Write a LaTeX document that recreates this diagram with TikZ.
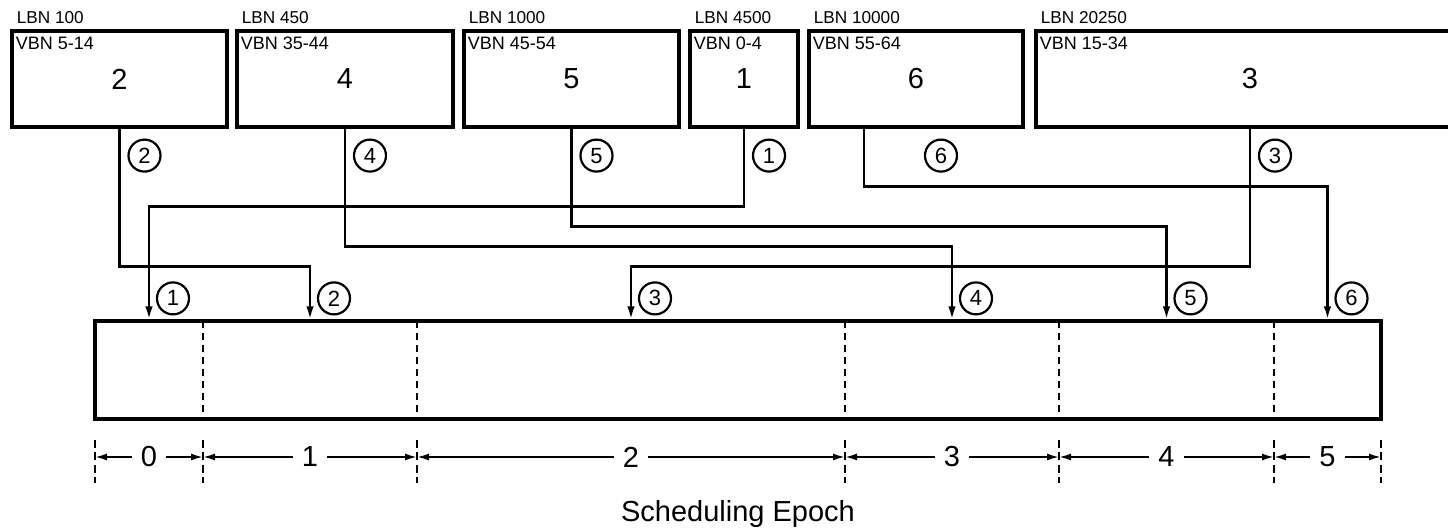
\documentclass[tikz,border=0pt]{standalone}
\usepackage{fontspec}
\setmainfont{Liberation Sans}
\usetikzlibrary{positioning,arrows.meta}

\begin{document}
\begin{tikzpicture}[x=0.5pt, y=-0.5pt, every node/.style={font=\fontsize{14.5}{16}\selectfont},
  blk/.style={draw, line width=1.6pt, minimum height=48pt, inner sep=0pt},
  tag/.style={font=\fontsize{8.6}{10}\selectfont, inner sep=0pt},
  num/.style={draw, circle, line width=1.1pt, minimum size=16pt, inner sep=0pt, font=\fontsize{11}{12}\selectfont},
  conn/.style={line width=1.2pt, -{Latex[length=6.5pt,width=3.8pt]}},
  dim/.style={line width=0.9pt, -{Latex[length=6pt,width=3.5pt]}}]
\useasboundingbox (0,0) rectangle (1448,530);

% extents as laid out on disk
\node[blk, minimum width=107.5pt] (b2) at (119.5,79) {2};
\node[blk, minimum width=108pt] (b4) at (345,79) {4};
\node[blk, minimum width=107.5pt] (b5) at (571.5,79) {5};
\node[blk, minimum width=54pt] (b1) at (744,79) {1};
\node[blk, minimum width=107pt] (b6) at (916,79) {6};
\node[blk, minimum width=214pt] (b3) at (1250,79) {3};
\foreach \b/\l/\v in {b2/100/5-14, b4/450/35-44, b5/1000/45-54, b1/4500/0-4, b6/10000/55-64, b3/20250/15-34} {
  \node[tag, anchor=base west] (\b-lbn) at ([xshift=3pt,yshift=3pt]\b.north west) {LBN \l};
  \node[tag, anchor=base west, font=\fontsize{9}{10}\selectfont] (\b-vbn) at ([xshift=2.5pt,yshift=-10pt]\b.north west) {VBN \v};
}

% scheduling slots
\node[draw, line width=1.6pt, minimum width=643pt, minimum height=49pt] (slot) at (738,370) {};
\foreach \x in {203,417,845,1059,1274}
  \draw[line width=1.3pt, dash pattern=on 3.5pt off 2.5pt] (\x,321) -- (\x,419);

\foreach \l/\r/\n in {95/203/0, 203/417/1, 417/845/2, 845/1059/3, 1059/1274/4, 1274/1381/5} {
  \node[inner xsep=4.5pt, inner ysep=0pt] (e\n) at ({(\l+\r)/2},457) {\n};
  \draw[dim] (e\n) -- (\l,457);
  \draw[dim] (e\n) -- (\r,457);
}
\foreach \x in {95,203,417,845,1059,1274,1381}
  \draw[line width=1.3pt, dash pattern=on 4pt off 2.2pt] (\x,440) -- (\x,483);
\node[font=\fontsize{14.5}{16}\selectfont, anchor=base] (title) at (738,521) {Scheduling Epoch};

\foreach \n/\e in {1/e0, 2/e1, 3/e2, 4/e3, 5/e4, 6/e5}
  \coordinate (in\n) at (\e |- slot.north);

\draw[conn] (b2.south) -- ++(0,138) -| (in2);
\draw[conn] (b4.south) -- ++(0,118) -| (in4);
\draw[conn] (b5.south) -- ++(0,98) -| (in5);
\draw[conn] (b1.south) -- ++(0,78) -| (in1);
\draw[conn] ([xshift=-26pt]b6.south) -- ++(0,58) -| (in6);
\draw[conn] (b3.south) -- ++(0,138) -| (in3);

\foreach \b/\n in {b2/2, b4/4, b5/5, b1/1, b6/6, b3/3}
  \node[num] (t\n) at ([xshift=12.5pt,yshift=-13.5pt]\b.south) {\n};
\foreach \n in {1,...,6}
  \node[num] (a\n) at ([xshift=12pt,yshift=10.5pt]in\n) {\n};
\end{tikzpicture}
\end{document}
